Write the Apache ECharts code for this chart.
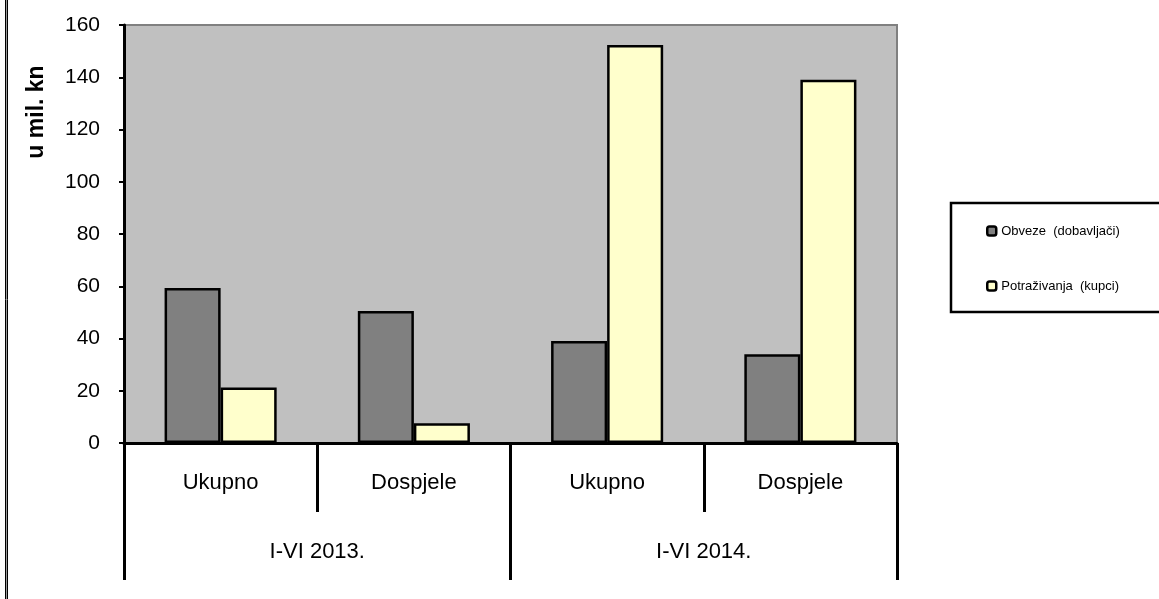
<!DOCTYPE html>
<html>
<head>
<meta charset="utf-8">
<script src="https://cdn.jsdelivr.net/npm/echarts@6/dist/echarts.min.js"></script>
<style>
  html, body { margin: 0; padding: 0; background: #fff; }
  #chart { width: 1159px; height: 599px; }
</style>
</head>
<body>
<div id="chart"></div>
<script>
  // podaci
  var categories = ['Ukupno', 'Dospjele', 'Ukupno', 'Dospjele']
  var periods = ['I-VI 2013.', 'I-VI 2014.']
  var seriesNames = ['Obveze  (dobavljači)', 'Potraživanja  (kupci)']
  var obveze = [59.3, 50.5, 39, 34]
  var potrazivanja = [21.2, 7.6, 152.3, 139]

  var font = "'Liberation Sans', Arial, sans-serif"
  var chart = echarts.init(document.getElementById('chart'))

  var option = {
    animation: false,
    backgroundColor: '#fff',
    grid: {
      left: 124,
      top: 25,
      right: 262,
      bottom: 156,
      show: true,
      backgroundColor: '#C0C0C0',
      borderColor: '#808080',
      borderWidth: 2
    },
    legend: {
      orient: 'vertical',
      left: 951,
      top: 203,
      padding: [21, 45, 19, 35],
      itemGap: 41,
      itemWidth: 9,
      itemHeight: 9,
      icon: 'roundRect',
      borderColor: '#000',
      borderWidth: 2.5,
      itemStyle: { borderColor: '#000', borderWidth: 2.5 },
      textStyle: { fontFamily: font, fontSize: 13, color: '#000', lineHeight: 14 },
      data: seriesNames
    },
    xAxis: [{
      type: 'category',
      position: 'bottom',
      data: categories,
      axisLine: { lineStyle: { color: '#000', width: 3 } },
      axisTick: { show: true, interval: 0, length: 69, lineStyle: { color: '#000', width: 3 } },
      axisLabel: { interval: 0, margin: 29, fontFamily: font, fontSize: 22, color: '#000' }
    }, {
      type: 'category',
      position: 'bottom',
      data: periods,
      axisLine: { show: false },
      axisTick: { show: true, interval: 0, length: 137, lineStyle: { color: '#000', width: 3 } },
      axisLabel: { interval: 0, margin: 98, fontFamily: font, fontSize: 22, color: '#000' }
    }],
    yAxis: {
      type: 'value',
      min: 0,
      max: 160,
      interval: 20,
      axisLine: { show: true, lineStyle: { color: '#000', width: 3 } },
      axisTick: { show: true, length: 5, lineStyle: { color: '#000', width: 2 } },
      splitLine: { show: false },
      axisLabel: { margin: 24, fontFamily: font, fontSize: 21, color: '#000' }
    },
    series: [{
      name: seriesNames[0],
      type: 'bar',
      xAxisIndex: 0,
      barGap: '0%',
      barCategoryGap: '42%',
      itemStyle: { color: '#808080', borderColor: '#000', borderWidth: 2.5 },
      data: obveze
    }, {
      name: seriesNames[1],
      type: 'bar',
      xAxisIndex: 0,
      barGap: '0%',
      barCategoryGap: '42%',
      itemStyle: { color: '#FFFFCC', borderColor: '#000', borderWidth: 2.5 },
      data: potrazivanja
    }],
    graphic: [
      // naziv osi
      {
        type: 'text',
        x: 37,
        y: 112,
        rotation: Math.PI / 2,
        style: {
          text: 'u mil. kn',
          fontFamily: font,
          fontSize: 23,
          fontWeight: 'bold',
          fill: '#000',
          align: 'center',
          verticalAlign: 'middle'
        }
      },
      // lijevi rub okvira
      { type: 'line', shape: { x1: 5.5, y1: 0, x2: 5.5, y2: 599 }, style: { stroke: '#000', lineWidth: 1 } },
      { type: 'line', shape: { x1: 6.5, y1: 0, x2: 6.5, y2: 599 }, style: { stroke: '#999', lineWidth: 1 } },
      { type: 'line', shape: { x1: 7.5, y1: 0, x2: 7.5, y2: 599 }, style: { stroke: '#000', lineWidth: 1 } }
    ]
  }

  chart.setOption(option)
</script>
</body>
</html>
